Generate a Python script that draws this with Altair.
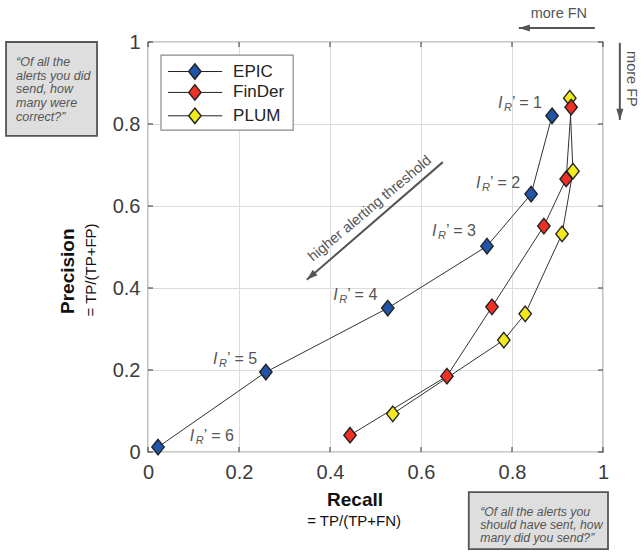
import altair as alt
import pandas as pd

# ---------------- data ----------------
systems = ["EPIC", "FinDer", "PLUM"]
thresholds = [1, 2, 3, 4, 5, 6]
epic_recall = [0.888, 0.842, 0.745, 0.527, 0.259, 0.022]
epic_precision = [0.820, 0.629, 0.502, 0.351, 0.195, 0.012]
finder_recall = [0.930, 0.919, 0.870, 0.756, 0.657, 0.444]
finder_precision = [0.841, 0.666, 0.551, 0.354, 0.185, 0.041]
plum_recall = [0.927, 0.934, 0.910, 0.829, 0.782, 0.538]
plum_precision = [0.863, 0.685, 0.532, 0.337, 0.273, 0.093]
colors = ["#1f55a8", "#ee3124", "#f2ea1d"]
tick_values = [0, 0.2, 0.4, 0.6, 0.8, 1]

# ---------------- styles ----------------
FONT = "Liberation Sans"
GRAY = "#555555"
DIAMOND = "M0,-1L0.8,0L0,1L-0.8,0Z"
ARROWHEAD = "M0,0L0.45,1.4L-0.45,1.4Z"

rows = []
for name, rec, pre in [("EPIC", epic_recall, epic_precision),
                       ("FinDer", finder_recall, finder_precision),
                       ("PLUM", plum_recall, plum_precision)]:
    for t, r, p in zip(thresholds, rec, pre):
        rows.append({"system": name, "threshold": t, "recall": r, "precision": p})
df = pd.DataFrame(rows)
draw_order = {"EPIC": 0, "PLUM": 1, "FinDer": 2}
df["z"] = df["system"].map(draw_order)
df = df.sort_values(["z", "threshold"]).reset_index(drop=True)

xscale = alt.Scale(domain=[0, 1], nice=False, zero=False)
yscale = alt.Scale(domain=[0, 1], nice=False, zero=False)
x_axis = alt.Axis(values=tick_values, format="~g", title=None, grid=True,
                  gridColor="#dcdcdc", gridWidth=1, domain=False, ticks=False,
                  tickSize=0, labelFont=FONT, labelFontSize=20, labelColor="#3c3c3c",
                  labelPadding=10, labelFlush=False)
y_axis = alt.Axis(values=tick_values, format="~g", title=None, grid=True,
                  gridColor="#dcdcdc", gridWidth=1, domain=False, ticks=False,
                  tickSize=0, labelFont=FONT, labelFontSize=20, labelColor="#3c3c3c",
                  labelPadding=8, labelFlush=False)


def X(field):
    return alt.X(f"{field}:Q", scale=xscale, axis=x_axis)


def Y(field):
    return alt.Y(f"{field}:Q", scale=yscale, axis=y_axis)


# ---------------- data marks ----------------
lines = alt.Chart(df).mark_line(color="#333333", strokeWidth=1).encode(
    x=X("recall"), y=Y("precision"), detail="system:N", order="threshold:Q")

points = alt.Chart(df).mark_point(
    shape=DIAMOND, filled=True, size=240, stroke="#222222", strokeWidth=1.4, opacity=1
).encode(
    x=X("recall"), y=Y("precision"),
    fill=alt.Fill("system:N", scale=alt.Scale(domain=systems, range=colors), legend=None),
    order="z:Q")

# ---------------- frame ticks (inward, all four sides) ----------------
tdf = pd.DataFrame({"t": tick_values})
tick_bottom = alt.Chart(tdf).mark_rule(color="#333333").encode(
    x=X("t"), y=alt.value(410), y2=alt.value(405))
tick_top = alt.Chart(tdf).mark_rule(color="#333333").encode(
    x=X("t"), y=alt.value(0), y2=alt.value(5))
tick_left = alt.Chart(tdf).mark_rule(color="#333333").encode(
    y=Y("t"), x=alt.value(0), x2=alt.value(5))
tick_right = alt.Chart(tdf).mark_rule(color="#333333").encode(
    y=Y("t"), x=alt.value(455), x2=alt.value(450))

# ---------------- I_R' labels ----------------
lab = pd.DataFrame({
    "x": [0.769, 0.721, 0.624, 0.407, 0.143, 0.092],
    "y": [0.852, 0.657, 0.539, 0.383, 0.228, 0.038],
    "rest": [f"\u2019 = {t}" for t in thresholds],
})
lab_I = alt.Chart(lab).mark_text(align="left", baseline="middle", font=FONT, fontSize=16,
                                 fontStyle="italic", color=GRAY).encode(
    x=X("x"), y=Y("y"), text=alt.value("I"))
lab_R = alt.Chart(lab).mark_text(align="left", baseline="middle", font=FONT, fontSize=11,
                                 fontStyle="italic", color=GRAY, dx=6, dy=5).encode(
    x=X("x"), y=Y("y"), text=alt.value("R"))
lab_rest = alt.Chart(lab).mark_text(align="left", baseline="middle", font=FONT, fontSize=16,
                                    color=GRAY, dx=14).encode(
    x=X("x"), y=Y("y"), text="rest:N")

# ---------------- legend (drawn inside the plot) ----------------
leg_box = alt.Chart(pd.DataFrame({"x": [0.0286], "x2": [0.319], "y": [0.785], "y2": [0.968]})
                    ).mark_rect(fill="white", stroke="#8a8a8a", strokeWidth=1.2).encode(
    x=X("x"), x2="x2:Q", y=Y("y"), y2="y2:Q")
leg = pd.DataFrame({"system": systems, "y": [0.928, 0.877, 0.820],
                    "xa": [0.044] * 3, "xb": [0.163] * 3, "xd": [0.103] * 3, "xt": [0.187] * 3})
leg_line = alt.Chart(leg).mark_rule(color="#222222", strokeWidth=1).encode(
    x=X("xa"), x2="xb:Q", y=Y("y"))
leg_pt = alt.Chart(leg).mark_point(shape=DIAMOND, filled=True, size=240, stroke="#222222",
                                   strokeWidth=1.4, opacity=1).encode(
    x=X("xd"), y=Y("y"),
    fill=alt.Fill("system:N", scale=alt.Scale(domain=systems, range=colors), legend=None))
leg_txt = alt.Chart(leg).mark_text(align="left", baseline="middle", font=FONT, fontSize=17,
                                   color="#222222").encode(
    x=X("xt"), y=Y("y"), text="system:N")

# ---------------- explanation boxes ----------------
box1 = alt.Chart(pd.DataFrame({"x": [-0.312], "x2": [-0.112], "y": [0.771], "y2": [1.0]})
                 ).mark_rect(fill="#dedede", stroke=GRAY, strokeWidth=1.8).encode(
    x=X("x"), x2="x2:Q", y=Y("y"), y2="y2:Q")
box1_txt = alt.Chart(pd.DataFrame({
    "x": [-0.290] * 5,
    "y": [0.952, 0.918, 0.885, 0.851, 0.816],
    "label": ["\u201cOf all the", "alerts you did", "send, how", "many were", "correct?\u201d"],
})).mark_text(align="left", baseline="middle", font=FONT, fontSize=12.5, fontStyle="italic",
              color=GRAY).encode(x=X("x"), y=Y("y"), text="label:N")

box2 = alt.Chart(pd.DataFrame({"x": [0.705], "x2": [1.011], "y": [-0.237], "y2": [-0.098]})
                 ).mark_rect(fill="#dedede", stroke=GRAY, strokeWidth=1.8).encode(
    x=X("x"), x2="x2:Q", y=Y("y"), y2="y2:Q")
box2_txt = alt.Chart(pd.DataFrame({
    "x": [0.730] * 3,
    "y": [-0.146, -0.178, -0.210],
    "label": ["\u201cOf all the alerts you", "should have sent, how", "many did you send?\u201d"],
})).mark_text(align="left", baseline="middle", font=FONT, fontSize=12.3, fontStyle="italic",
              color=GRAY).encode(x=X("x"), y=Y("y"), text="label:N")

# ---------------- axis titles ----------------
t_prec = alt.Chart(pd.DataFrame({"x": [-0.175], "y": [0.441], "label": ["Precision"]})).mark_text(
    font=FONT, fontSize=19, fontWeight="bold", color="#111111", angle=270, baseline="middle"
).encode(x=X("x"), y=Y("y"), text="label:N")
t_prec2 = alt.Chart(pd.DataFrame({"x": [-0.125], "y": [0.444], "label": ["= TP/(TP+FP)"]})).mark_text(
    font=FONT, fontSize=15, color="#111111", angle=270, baseline="middle"
).encode(x=X("x"), y=Y("y"), text="label:N")
t_rec = alt.Chart(pd.DataFrame({"x": [0.455], "y": [-0.117], "label": ["Recall"]})).mark_text(
    font=FONT, fontSize=19, fontWeight="bold", color="#111111", baseline="middle"
).encode(x=X("x"), y=Y("y"), text="label:N")
t_rec2 = alt.Chart(pd.DataFrame({"x": [0.453], "y": [-0.168], "label": ["= TP/(TP+FN)"]})).mark_text(
    font=FONT, fontSize=15, color="#111111", baseline="middle"
).encode(x=X("x"), y=Y("y"), text="label:N")

# ---------------- arrows ----------------
arrows = pd.DataFrame({
    "x": [0.982, 1.037, 0.648],
    "y": [1.034, 0.998, 0.707],
    "x2": [0.815, 1.037, 0.349],
    "y2": [1.034, 0.810, 0.420],
    "angle": [270, 180, 229],
})
arrow_shaft = alt.Chart(arrows).mark_rule(color=GRAY, strokeWidth=2).encode(
    x=X("x"), y=Y("y"), x2="x2:Q", y2="y2:Q")
arrow_head = alt.Chart(arrows).mark_point(shape=ARROWHEAD, filled=True, size=250, color=GRAY,
                                          opacity=1, strokeWidth=0).encode(
    x=X("x2"), y=Y("y2"), angle=alt.Angle("angle:Q", scale=None))

arrow_txt = alt.Chart(pd.DataFrame({
    "x": [0.903, 1.062, 0.488],
    "y": [1.068, 0.910, 0.593],
    "label": ["more FN", "more FP", "higher alerting threshold"],
    "angle": [0, 90, 320],
})).mark_text(font=FONT, fontSize=14.5, color=GRAY, baseline="middle").encode(
    x=X("x"), y=Y("y"), text="label:N", angle=alt.Angle("angle:Q", scale=None))

chart = alt.layer(
    lines, tick_bottom, tick_top, tick_left, tick_right,
    leg_box, leg_line, leg_pt, leg_txt,
    points,
    lab_I, lab_R, lab_rest,
    box1, box1_txt, box2, box2_txt,
    t_prec, t_prec2, t_rec, t_rec2,
    arrow_shaft, arrow_head, arrow_txt,
).properties(
    width=455, height=410,
    autosize=alt.AutoSizeParams(type="none"),
    padding={"left": 148, "top": 42, "right": 40, "bottom": 104},
    background="white",
).configure_view(stroke="#333333", strokeWidth=1.2)

chart.save("out.html", embed_options={"renderer": "svg", "actions": False})
